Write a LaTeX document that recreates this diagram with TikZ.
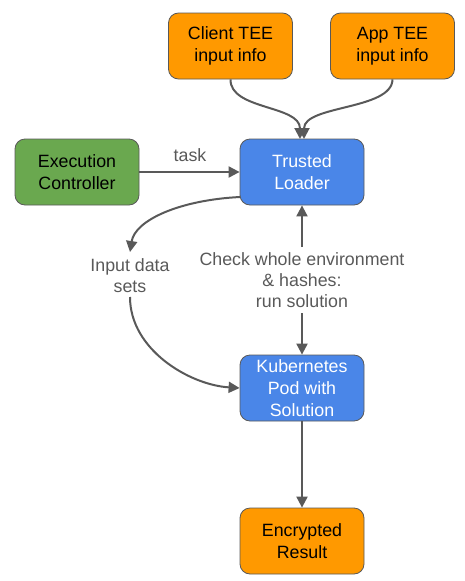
\documentclass[tikz,border=0pt]{standalone}
\usepackage{fontspec}
\setmainfont{Liberation Sans}
\usetikzlibrary{arrows.meta}
\definecolor{orangebox}{HTML}{FF9900}
\definecolor{greenbox}{HTML}{6AA84F}
\definecolor{bluebox}{HTML}{4A86E8}
\definecolor{edgegray}{HTML}{595959}
\definecolor{bordergray}{HTML}{595959}
\begin{document}
\begin{tikzpicture}[x=1pt,y=-1pt,
  box/.style={draw=bordergray,line width=0.8pt,rounded corners=10pt,minimum width=124pt,minimum height=66pt,align=center,inner sep=0pt,font=\fontsize{17.8}{22}\selectfont},
  orangenode/.style={box,fill=orangebox,text=black},
  greennode/.style={box,fill=greenbox,text=black},
  bluenode/.style={box,fill=bluebox,text=white},
  lbl/.style={align=center,text=edgegray,inner sep=0pt,font=\fontsize{17.8}{21}\selectfont},
  conn/.style={draw=edgegray,line width=2pt,-{Triangle[length=11pt,width=11pt]}}]
\useasboundingbox (0,0) rectangle (465,581);
\node[orangenode] (client) at (230.5,46) {Client TEE\\input info};
\node[orangenode] (app) at (392.5,46) {App TEE\\input info};
\node[greennode] (exec) at (77,172) {Execution\\Controller};
\node[bluenode] (loader) at (302,172) {Trusted\\Loader};
\node[bluenode] (kube) at (302,388) {Kubernetes\\Pod with\\Solution};
\node[orangenode] (result) at (302,541) {Encrypted\\Result};
\node[lbl] (input) at (130,275.5) {Input data\\sets};
\node[lbl] (check) at (302,280) {Check whole environment\\\& hashes:\\run solution};
\node[lbl] (task) at (190,155) {task};
\coordinate (loaderleft) at (240,197);
\coordinate (intop) at (130,252);
\coordinate (inbot) at (130,297);
\coordinate (checktop) at (302,247);
\coordinate (checkbot) at (302,313);
\coordinate (ltop1) at (300,139);
\coordinate (ltop2) at (304,139);
\draw[conn] (client.south) .. controls (230,110) and (300,105) .. (ltop1);
\draw[conn] (app.south) .. controls (392,110) and (304,105) .. (ltop2);
\draw[conn] (exec.east) -- (loader.west);
\draw[conn] (loaderleft) .. controls (180,200) and (135,220) .. (intop);
\draw[conn] (inbot) .. controls (130,350) and (190,385) .. (kube.west);
\draw[conn] (checktop) -- (loader.south);
\draw[conn] (checkbot) -- (kube.north);
\draw[conn] (kube.south) -- (result.north);
\end{tikzpicture}
\end{document}
